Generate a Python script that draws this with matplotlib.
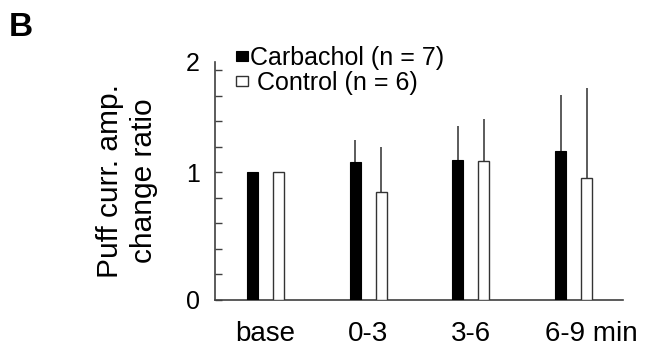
import matplotlib
matplotlib.use("Agg")
import matplotlib.pyplot as plt
import matplotlib.transforms as mtransforms
import numpy as np

plt.rcParams['font.family'] = ['Liberation Sans', 'DejaVu Sans']

periods = ['base', '0-3', '3-6', '6-9 min']
carb_mean = [1.0, 1.08, 1.10, 1.17]
carb_sd = [0.0, 0.17, 0.26, 0.44]
ctrl_mean = [1.0, 0.85, 1.09, 0.955]
ctrl_sd = [0.0, 0.35, 0.33, 0.71]

grey = '#404040'
x = np.arange(len(periods))
w = 0.107
off = 0.126

fig = plt.figure(figsize=(6.45, 3.5), dpi=100)
ax = fig.add_axes([0.3333, 0.1429, 0.6321, 0.68])

b1 = ax.bar(x - off, carb_mean, w, color='black', edgecolor='black', lw=0.8,
            label='Carbachol (n = 7)', zorder=3)
b2 = ax.bar(x + off, ctrl_mean, w, color='white', edgecolor='#333333', lw=1.0,
            label=' Control (n = 6)', zorder=3)
ax.errorbar(x - off, carb_mean, yerr=[np.zeros(4), carb_sd], fmt='none',
            ecolor=grey, elinewidth=1.2, capsize=0, zorder=2)
ax.errorbar(x + off, ctrl_mean, yerr=[np.zeros(4), ctrl_sd], fmt='none',
            ecolor=grey, elinewidth=1.2, capsize=0, zorder=2)

ytop = 1.865
ax.set_xlim(-0.49, 3.477)
ax.set_ylim(0, ytop)

for s in ['top', 'right']:
    ax.spines[s].set_visible(False)
for s in ['left', 'bottom']:
    ax.spines[s].set_color(grey)
    ax.spines[s].set_linewidth(1.2)

ax.set_xticks(x, periods, fontsize=20)
ax.tick_params(axis='x', length=0, pad=15)
lab = ax.get_xticklabels()[-1]
lab.set_transform(lab.get_transform() +
                  mtransforms.ScaledTranslation(0.18, 0, fig.dpi_scale_trans))

ax.set_yticks([0, 1, ytop], ['0', '1', '2'], fontsize=18)
ax.set_yticks(np.arange(0.2, 1.9, 0.2), minor=True)
ax.tick_params(axis='y', which='both', direction='in', length=5, width=1.0,
               color=grey, pad=11)
ax.yaxis.get_major_ticks()[2].tick1line.set_visible(False)

ax.set_ylabel('Puff curr. amp.\nchange ratio', fontsize=21.5, labelpad=20,
              linespacing=1.25)

ax.legend(handles=[b1, b2], loc='upper left', bbox_to_anchor=(0.02, 1.12),
          frameon=False, fontsize=18, handlelength=0.48, handleheight=0.24,
          handletextpad=0.1, labelspacing=0.05, borderpad=0)

fig.text(0.013, 0.965, 'B', fontsize=24, fontweight='bold', va='top')

fig.savefig('out.png', dpi=100)
